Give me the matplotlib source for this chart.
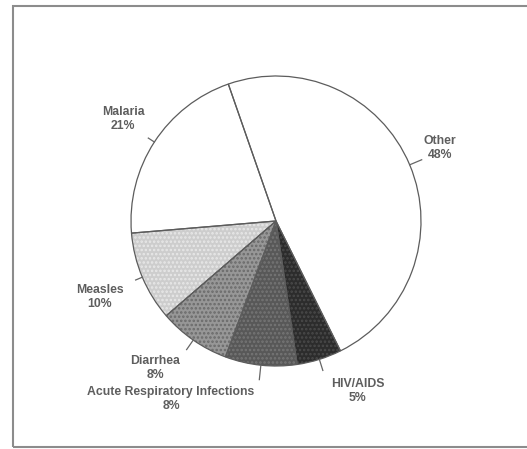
import matplotlib.pyplot as plt
from matplotlib.patches import Rectangle
import numpy as np

# Causes of death, share of total (%)
causes = ["Other", "HIV/AIDS", "Acute Respiratory Infections", "Diarrhea", "Measles", "Malaria"]
shares = [48, 5, 8, 8, 10, 21]

# Grey fills, with a stippled texture on the shaded slices
fills = ["#ffffff", "#2c2c2c", "#585858", "#979797", "#cdcdcd", "#ffffff"]
dots = [None, "#4a4a4a", "#767676", "#6a6a6a", "#e8e8e8", None]

# Label centres (pixels from top-left) and leader lengths
label_xy = [(440, 148), (358, 391), (171, 399), (155, 368), (100, 297), (123, 119)]
leader_len = [0.09, 0.08, 0.10, 0.08, 0.05, 0.05]

W, H = 527, 449
cx, cy, R = 276, H - 221, 145
start = 109.2

fig = plt.figure(figsize=(W / 100, H / 100), dpi=100)
ax = fig.add_axes([0, 0, 1, 1])

plt.rcParams["hatch.linewidth"] = 1.2
wedges, _ = ax.pie(shares, colors=fills, startangle=start, counterclock=False,
                   center=(cx, cy), radius=R,
                   wedgeprops=dict(linewidth=0))
for w, d in zip(wedges, dots):
    if d:
        w.set_hatch("....")
        w.set_edgecolor(d)

# outlines on top
ax.pie(shares, startangle=start, counterclock=False, center=(cx, cy), radius=R,
       wedgeprops=dict(fill=False, edgecolor="#5c5c5c", linewidth=0.9))

# leader lines and labels
angle = start
for name, s, (lx, ly), ln in zip(causes, shares, label_xy, leader_len):
    mid = np.radians(angle - s * 3.6 / 2)
    angle -= s * 3.6
    x0, y0 = cx + R * np.cos(mid), cy + R * np.sin(mid)
    x1, y1 = cx + R * (1 + ln) * np.cos(mid), cy + R * (1 + ln) * np.sin(mid)
    ax.plot([x0, x1], [y0, y1], color="#666666", lw=0.9)
    ax.text(lx, H - ly, f"{name}\n{s}%", ha="center", va="center",
            fontsize=8.8, fontweight="bold", family="Liberation Sans",
            color="#5e5e5e", linespacing=1.15)

# box around the chart (right side runs off the edge)
ax.add_patch(Rectangle((13, H - 447), 530, 441, fill=False,
                       edgecolor="#8c8c8c", linewidth=1.5))

ax.set_xlim(0, W)
ax.set_ylim(0, H)
ax.axis("off")

plt.savefig("out.png", dpi=100)
